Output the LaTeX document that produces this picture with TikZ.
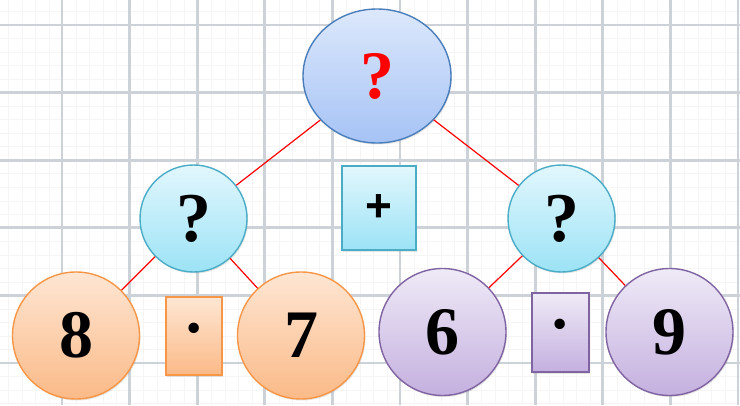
\documentclass[tikz,border=0pt]{standalone}
\usepackage{fontspec}
\setmainfont{Liberation Serif}
\newfontfamily\opfont{Liberation Sans}
\usepackage{xcolor}
\usetikzlibrary{shapes.geometric, shadows}
\definecolor{topline}{HTML}{4A7EBB}
\definecolor{toptop}{HTML}{DCE8FC}
\definecolor{topbot}{HTML}{A6C3F5}
\definecolor{midline}{HTML}{4BACC6}
\definecolor{midtop}{HTML}{E2F7FD}
\definecolor{midbot}{HTML}{9CE3F6}
\definecolor{orgline}{HTML}{F79646}
\definecolor{orgtop}{HTML}{FEE6D3}
\definecolor{orgbot}{HTML}{FBBA88}
\definecolor{purline}{HTML}{8064A2}
\definecolor{purtop}{HTML}{EFEAF7}
\definecolor{purbot}{HTML}{C4B0DF}
\definecolor{gridgray}{HTML}{CDD1D8}

\begin{document}
\begin{tikzpicture}[
        x=1pt, y=-1pt,
        ball/.style={circle, line width=1.4pt, inner sep=0pt, minimum size=107pt,
                     font=\fontsize{70}{70}\selectfont\bfseries,
                     drop shadow={opacity=0.2, shadow xshift=1pt, shadow yshift=-1.5pt}},
        bigball/.style={ball, minimum size=127pt, font=\fontsize{68}{68}\selectfont\bfseries},
        opbox/.style={rectangle, line width=1.4pt, inner sep=0pt,
                      drop shadow={opacity=0.2, shadow xshift=1pt, shadow yshift=-1.5pt}},
        dotop/.style={opbox, font=\fontsize{64}{64}\selectfont\bfseries},
        blue/.style={draw=topline, top color=toptop, bottom color=topbot},
        cyan/.style={draw=midline, top color=midtop, bottom color=midbot},
        orange/.style={draw=orgline, top color=orgtop, bottom color=orgbot},
        purple/.style={draw=purline, top color=purtop, bottom color=purbot},
        branch/.style={red, line width=1.2pt}
      ]
      \useasboundingbox (0,0) rectangle (740,405);
      \fill[white] (0,0) rectangle (740,405);
      \foreach \k in {0,...,55}
        \draw[black!4, line width=0.6pt] (-5+13.52*\k,0) -- (-5+13.52*\k,405);
      \foreach \k in {0,...,30}
        \draw[black!4, line width=0.6pt] (0,-2+13.52*\k) -- (740,-2+13.52*\k);
      \foreach \k in {0,...,11}
        \draw[gridgray, line width=2.8pt] (-5.6+67.6*\k,0) -- (-5.6+67.6*\k,405);
      \foreach \k in {0,...,6}
        \draw[gridgray, line width=2.8pt] (0,25+67.6*\k) -- (740,25+67.6*\k);

      \node[ellipse, blue, line width=1.4pt, inner sep=0pt,
            minimum width=148pt, minimum height=134pt,
            text=red, font=\fontsize{68}{68}\selectfont\bfseries,
            drop shadow={opacity=0.2, shadow xshift=1pt, shadow yshift=-1.5pt}]
        (sum) at (377,76) {?};
      \node[ball, cyan] (left) at (193.5,218.5) {?};
      \node[ball, cyan] (right) at (561.5,218.5) {?};
      \node[opbox, cyan, minimum width=74pt, minimum height=84pt,
            font=\opfont\fontsize{46}{46}\selectfont\bfseries]
        (plus) at (379,208) {+};

      \node[bigball, orange] (eight) at (76,335.5) {8};
      \node[bigball, orange] (seven) at (301,335.5) {7};
      \node[dotop, orange, minimum width=56pt, minimum height=78pt]
        (timesl) at (194,336) {·};
      \node[bigball, purple] (six) at (442.5,332) {6};
      \node[bigball, purple] (nine) at (669.5,332) {9};
      \node[dotop, purple, minimum width=57pt, minimum height=79pt]
        (timesr) at (560.5,332.5) {·};

      \draw[branch] (sum) -- (left);
      \draw[branch] (sum) -- (right);
      \draw[branch] (left) -- (eight);
      \draw[branch] (left) -- (seven);
      \draw[branch] (right) -- (six);
      \draw[branch] (right) -- (nine);
    \end{tikzpicture}
\end{document}
